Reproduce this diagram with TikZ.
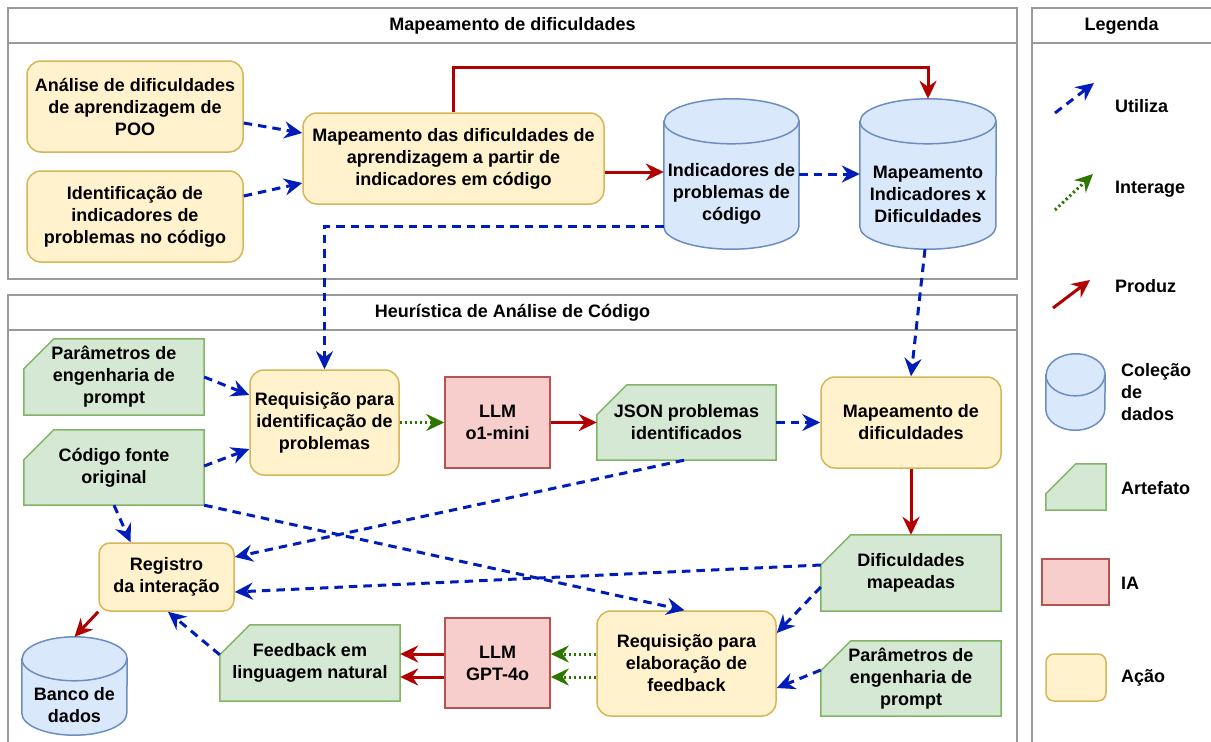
\documentclass[tikz,border=0pt]{standalone}
\usepackage{fontspec}
\setmainfont{Liberation Sans}
\usetikzlibrary{arrows.meta}
\pgfdeclarelayer{background}
\pgfsetlayers{background,main}

\definecolor{actfill}{HTML}{FFF2CC}
\definecolor{actline}{HTML}{D6B656}
\definecolor{artfill}{HTML}{D5E8D4}
\definecolor{artline}{HTML}{82B366}
\definecolor{aifill}{HTML}{F8CECC}
\definecolor{ailine}{HTML}{B85450}
\definecolor{dbfill}{HTML}{DAE8FC}
\definecolor{dbline}{HTML}{6C8EBF}
\definecolor{usecol}{HTML}{001DBC}
\definecolor{prodcol}{HTML}{B20000}
\definecolor{intcol}{HTML}{2D7600}
\definecolor{panelcol}{HTML}{999999}

\tikzset{
  lbl/.style={font=\fontsize{18}{22}\selectfont\bfseries, align=center, inner sep=0pt},
  lgd/.style={lbl, anchor=west, align=left},
  action/.style={lbl, draw=actline, fill=actfill, rounded corners=14pt, line width=1.5pt},
  aibox/.style={lbl, draw=ailine, fill=aifill, line width=1.5pt},
  artshape/.style={draw=artline, fill=artfill, line width=1.5pt},
  dbshape/.style={draw=dbline, fill=dbfill, line width=1.5pt},
  panel/.style={draw=panelcol, line width=1.6pt},
  tip/.style={-{Stealth[length=18pt,width=17pt,inset=6pt]}},
  uses/.style={tip, draw=usecol, line width=3pt, dash pattern=on 8.5pt off 6pt},
  produces/.style={tip, draw=prodcol, line width=3pt},
  interacts/.style={tip, draw=intcol, line width=3pt, dash pattern=on 2.2pt off 2.8pt},
}

% artefact card: rectangle with the upper left corner cut off
% #1 name, #2 x, #3 y, #4 width, #5 height, #6 text
\newcommand{\artefact}[6]{%
  \node[lbl, minimum width=#4pt, minimum height=#5pt] (#1) at (#2,#3) {#6};
  \begin{pgfonlayer}{background}
    \path[artshape] ([yshift=-30pt]#1.north west) -- ([xshift=30pt]#1.north west)
      -- (#1.north east) -- (#1.south east) -- (#1.south west) -- cycle;
  \end{pgfonlayer}}

% data collection cylinder
% #1 name, #2 x, #3 y, #4 width, #5 height, #6 end radius, #7 text drop, #8 text
\newcommand{\datacyl}[8]{%
  \node[inner sep=0pt, minimum width=#4pt, minimum height=#5pt] (#1) at (#2,#3) {};
  \begin{pgfonlayer}{background}
    \path[dbshape] ([yshift=-#6pt]#1.north west) -- ([yshift=#6pt]#1.south west)
      arc[start angle=180, end angle=360, x radius=#4/2, y radius=#6]
      -- ([yshift=-#6pt]#1.north east)
      arc[start angle=0, end angle=180, x radius=#4/2, y radius=#6] -- cycle;
    \draw[dbline, line width=1.5pt] ([yshift=-#6pt]#1.north west)
      arc[start angle=180, end angle=360, x radius=#4/2, y radius=#6];
  \end{pgfonlayer}
  \node[lbl] (#1-t) at ([yshift=-#7pt]#1.center) {#8};}

\begin{document}
\begin{tikzpicture}[x=1pt, y=1pt]
\useasboundingbox (0,0) rectangle (1211,-742);
\clip (0,0) rectangle (1211,-742);

% ---------- panels ----------
\draw[panel] (8,-8) rectangle (1017,-279);
\draw[panel] (8,-43) -- (1017,-43);
\node[lbl] (title-map) at (512.5,-26) {Mapeamento de dificuldades};

\draw[panel] (8,-295) rectangle (1017,-770);
\draw[panel] (8,-330) -- (1017,-330);
\node[lbl] (title-heur) at (512.5,-312.5) {Heurística de Análise de Código};

\draw[panel] (1032,-8) rectangle (1230,-770);
\draw[panel] (1032,-43) -- (1230,-43);
\node[lbl] (title-leg) at (1121.5,-26) {Legenda};

% ---------- mapping of difficulties ----------
\node[action, minimum width=216pt, minimum height=91pt] (a1) at (135,-106.5)
  {Análise de dificuldades\\de aprendizagem de\\POO};
\node[action, minimum width=216pt, minimum height=91pt] (a2) at (135,-216.5)
  {Identificação de\\indicadores de\\problemas no código};
\node[action, minimum width=301pt, minimum height=91pt] (mp) at (453.5,-158.5)
  {Mapeamento das dificuldades de\\aprendizagem a partir de\\indicadores em código};
\datacyl{cyl1}{731.5}{-174}{135}{150}{22.5}{20}{Indicadores de\\problemas de\\código}
\datacyl{cyl2}{928}{-174}{136}{150}{22.5}{20}{Mapeamento\\Indicadores x\\Dificuldades}

% ---------- code analysis heuristic ----------
\artefact{p1}{114}{-377}{180}{76}{Parâmetros de\\engenharia de\\prompt}
\artefact{cf}{114}{-467.5}{180}{75}{Código fonte\\original}
\node[action, minimum width=149pt, minimum height=105pt] (r1) at (324.5,-422.5)
  {Requisição para\\identificação de\\problemas};
\node[aibox, minimum width=105pt, minimum height=91pt] (llm1) at (497.5,-422.5) {LLM\\o1-mini};
\artefact{json}{686.5}{-422.5}{179}{75}{JSON problemas\\identificados}
\node[action, minimum width=180pt, minimum height=91pt] (md) at (911,-422.5)
  {Mapeamento de\\dificuldades};
\artefact{dm}{911}{-573}{180}{76}{Dificuldades\\mapeadas}
\node[action, minimum width=179pt, minimum height=105pt] (rf) at (686.5,-663.5)
  {Requisição para\\elaboração de\\feedback};
\artefact{p2}{911}{-678.5}{180}{75}{Parâmetros de\\engenharia de\\prompt}
\node[aibox, minimum width=105pt, minimum height=90pt] (llm2) at (497.5,-663) {LLM\\GPT-4o};
\artefact{fb}{310}{-663}{180}{76}{Feedback em\\linguagem natural}
\node[action, minimum width=135pt, minimum height=68pt, rounded corners=11pt] (ri) at (166.5,-577)
  {Registro\\da interação};
\datacyl{db}{74.5}{-686}{105}{98}{22}{19}{Banco de\\dados}

% ---------- connectors: mapping ----------
\draw[uses] ([yshift=-16.5pt]a1.east) -- ([yshift=25.5pt]mp.west);
\draw[uses] ([yshift=20.5pt]a2.east) -- ([yshift=-24.5pt]mp.west);
\coordinate (mpout) at ([yshift=-13.5pt]mp.east);
\draw[produces] (mpout) -- (mpout -| cyl1.west);
\draw[produces] (mp.north) -- ++(0,45) -| (cyl2.north);
\draw[uses] (cyl1.east) -- (cyl2.west);
\draw[uses] ([yshift=-52pt]cyl1.west) -| (r1.north);
\draw[uses] ([xshift=-3pt]cyl2.south) -- (md.north);

% ---------- connectors: heuristic ----------
\draw[uses] (p1.east) -- ([yshift=27.5pt]r1.west);
\draw[uses] ([yshift=1.5pt]cf.east) -- ([yshift=-26.5pt]r1.west);
\draw[interacts] (r1.east) -- (llm1.west);
\draw[produces] (llm1.east) -- (json.west);
\draw[uses] (json.east) -- (md.west);
\draw[produces] (md.south) -- (dm.north);
\draw[uses] ([yshift=-14pt]dm.west) -- ([yshift=30.5pt]rf.east);
\draw[uses] ([yshift=8.5pt]p2.west) -- ([yshift=-24.5pt]rf.east);
\draw[uses] ([yshift=8pt]dm.west) -- ([yshift=-15pt]ri.east);
\draw[uses] ([xshift=-2.5pt]json.south) -- ([yshift=20pt]ri.east);
\draw[uses] (cf.south east) -- ([xshift=-2pt]rf.north);
\draw[uses] (cf.south) -- ([xshift=-36pt]ri.north);
\draw[produces] (ri.south west) -- (db.north);
\draw[uses] ([yshift=-30pt]fb.north west) -- ([xshift=1.5pt]ri.south);
\draw[produces] ([yshift=9pt]llm2.west) -- ([yshift=9pt]fb.east);
\draw[produces] ([yshift=-14pt]llm2.west) -- ([yshift=-14pt]fb.east);
\draw[interacts] ([yshift=9.5pt]rf.west) -- ([yshift=9pt]llm2.east);
\draw[interacts] ([yshift=-13.5pt]rf.west) -- ([yshift=-14pt]llm2.east);

% ---------- legend ----------
\coordinate (lu1) at (1055,-113);
\coordinate (lu2) at (1094,-83);
\draw[uses] (lu1) -- (lu2);
\node[lgd] (lu) at (1115,-106) {Utiliza};

\coordinate (li1) at (1055,-210);
\coordinate (li2) at (1093,-174);
\draw[interacts] (li1) -- (li2);
\node[lgd] (li) at (1115,-189) {Interage};

\coordinate (lp1) at (1053,-308);
\coordinate (lp2) at (1090,-280);
\draw[produces] (lp1) -- (lp2);
\node[lgd] (lp) at (1115,-286) {Produz};

\datacyl{lcyl}{1075.5}{-392}{59}{76}{21}{0}{}
\node[lgd] (lc) at (1121,-392) {Coleção\\de\\dados};

\artefact{lart}{1076}{-487}{60}{46}{}
\node[lgd] (la) at (1121,-488) {Artefato};

\node[aibox, minimum width=67pt, minimum height=46pt] (lia) at (1075.5,-582) {};
\node[lgd] (lai) at (1121,-583) {IA};

\node[action, minimum width=60pt, minimum height=47pt, rounded corners=8pt] (lac) at (1076,-677.5) {};
\node[lgd] (lacl) at (1121,-678) {Ação};
\end{tikzpicture}
\end{document}
